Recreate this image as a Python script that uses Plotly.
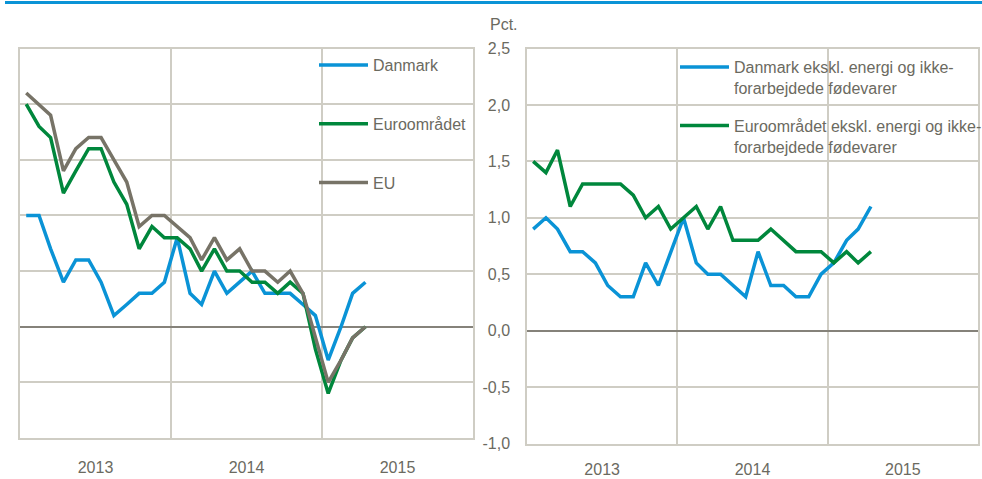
import pandas as pd
import plotly.graph_objects as go

# ---------------- data ----------------
months = pd.date_range("2013-01-01", periods=28, freq="MS") + pd.Timedelta(days=15)

danmark = [1.0, 1.0, 0.7, 0.4, 0.6, 0.6, 0.4, 0.1, 0.2, 0.3, 0.3, 0.4,
           0.8, 0.3, 0.2, 0.5, 0.3, 0.4, 0.5, 0.3, 0.3, 0.3, 0.2, 0.1,
           -0.3, 0.0, 0.3, 0.4]
euroomraadet = [2.0, 1.8, 1.7, 1.2, 1.4, 1.6, 1.6, 1.3, 1.1, 0.7, 0.9, 0.8,
                0.8, 0.7, 0.5, 0.7, 0.5, 0.5, 0.4, 0.4, 0.3, 0.4, 0.3, -0.2,
                -0.6, -0.3, -0.1, 0.0]
eu = [2.1, 2.0, 1.9, 1.4, 1.6, 1.7, 1.7, 1.5, 1.3, 0.9, 1.0, 1.0,
      0.9, 0.8, 0.6, 0.8, 0.6, 0.7, 0.5, 0.5, 0.4, 0.5, 0.3, -0.1,
      -0.5, -0.3, -0.1, 0.0]

danmark_kerne = [0.9, 1.0, 0.9, 0.7, 0.7, 0.6, 0.4, 0.3, 0.3, 0.6, 0.4, 0.7,
                 1.0, 0.6, 0.5, 0.5, 0.4, 0.3, 0.7, 0.4, 0.4, 0.3, 0.3, 0.5,
                 0.6, 0.8, 0.9, 1.1]
euro_kerne = [1.5, 1.4, 1.6, 1.1, 1.3, 1.3, 1.3, 1.3, 1.2, 1.0, 1.1, 0.9,
              1.0, 1.1, 0.9, 1.1, 0.8, 0.8, 0.8, 0.9, 0.8, 0.7, 0.7, 0.7,
              0.6, 0.7, 0.6, 0.7]

y_ticks = [-1.0, -0.5, 0.0, 0.5, 1.0, 1.5, 2.0, 2.5]
y_ticktext = ["-1,0", "-0,5", "0,0", "0,5", "1,0", "1,5", "2,0", "2,5"]

# ---------------- style ----------------
BLUE = "#0a93d6"
GREEN = "#00873c"
GREY = "#777367"
TXT = "#6b6a5f"
GRID = "#cfcdc4"
ZERO = "#85827a"
FONT = "Liberation Sans, Arial, sans-serif"
W, H = 982, 479

fig = go.Figure()

left = [("Danmark", danmark, BLUE), ("Euroområdet", euroomraadet, GREEN), ("EU", eu, GREY)]
for i, (name, vals, col) in enumerate(left):
    fig.add_trace(go.Scatter(x=months, y=vals, mode="lines", name=name,
                             line=dict(color=col, width=3.5),
                             xaxis="x", yaxis="y", legend="legend",
                             legendgroup="l%d" % i))

right = [("Danmark ekskl. energi og ikke-<br>forarbejdede fødevarer", danmark_kerne, BLUE),
         ("Euroområdet ekskl. energi og ikke-<br>forarbejdede fødevarer", euro_kerne, GREEN)]
for i, (name, vals, col) in enumerate(right):
    fig.add_trace(go.Scatter(x=months, y=vals, mode="lines", name=name,
                             line=dict(color=col, width=3.5),
                             xaxis="x2", yaxis="y2", legend="legend2",
                             legendgroup="r%d" % i))

def px_x(p):
    return p / W

def px_y(p):
    return (H - p) / H

xcommon = dict(type="date", range=["2013-01-01", "2016-01-01"], dtick="M12",
               tickformat="%Y", ticklabelmode="period", showgrid=True,
               gridcolor=GRID, gridwidth=1.5, showline=True, linecolor=GRID,
               linewidth=1.5, mirror=True, ticks="", ticklabelstandoff=14,
               tickfont=dict(family=FONT, size=16, color=TXT), zeroline=False)
ycommon = dict(range=[-1.0, 2.5], tickvals=y_ticks, ticktext=y_ticktext,
               showgrid=True, gridcolor=GRID, gridwidth=1.5, showline=True,
               linecolor=GRID, linewidth=1.5, mirror=True, zeroline=True,
               zerolinecolor=ZERO, zerolinewidth=2, ticks="",
               tickfont=dict(family=FONT, size=16, color=TXT))

fig.update_layout(
    width=W, height=H,
    margin=dict(l=0, r=0, t=0, b=0, autoexpand=False),
    paper_bgcolor="white", plot_bgcolor="white",
    font=dict(family=FONT, size=16, color=TXT),
    xaxis=dict(xcommon, domain=[px_x(20), px_x(473)], anchor="y"),
    yaxis=dict(ycommon, domain=[px_y(438), px_y(48.5)], anchor="x",
               showticklabels=False),
    xaxis2=dict(xcommon, domain=[px_x(527), px_x(978)], anchor="y2",
                ticklabelstandoff=11),
    yaxis2=dict(ycommon, domain=[px_y(443.5), px_y(48.5)], anchor="x2",
                ticklabelstandoff=12),
    legend=dict(x=px_x(314), y=px_y(48), xanchor="left", yanchor="top",
                bgcolor="rgba(0,0,0,0)", tracegroupgap=35, itemwidth=49,
                font=dict(family=FONT, size=16, color=TXT)),
    legend2=dict(x=px_x(675), y=px_y(50), xanchor="left", yanchor="top",
                 bgcolor="rgba(0,0,0,0)", tracegroupgap=14, itemwidth=49,
                 valign="top", font=dict(family=FONT, size=16, color=TXT)),
    shapes=[dict(type="line", xref="paper", yref="paper", x0=px_x(5), x1=1,
                 y0=px_y(2.5), y1=px_y(2.5), line=dict(color="#0a93d6", width=3))],
    annotations=[dict(text="Pct.", xref="paper", yref="paper", x=px_x(520),
                      y=px_y(24), xanchor="right", yanchor="middle",
                      showarrow=False, font=dict(family=FONT, size=16, color=TXT))],
)

fig.write_html("out.html", config={"displayModeBar": False},
               post_script="document.body.style.margin='0';")
